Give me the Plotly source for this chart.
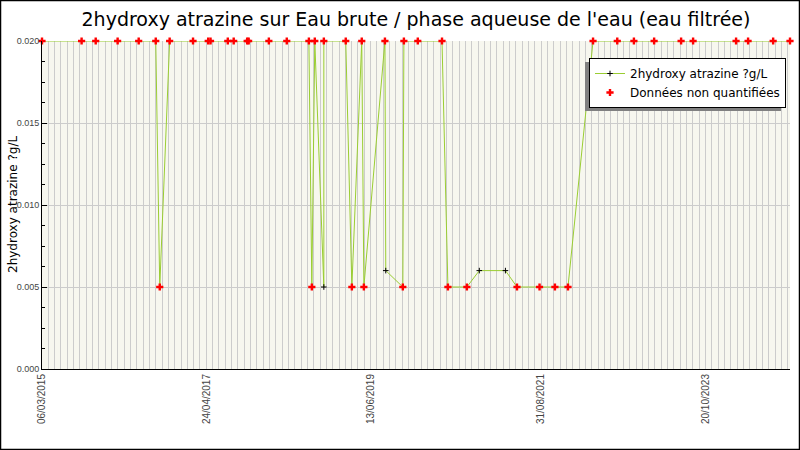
import plotly.graph_objects as go

# dates de prélèvement, valeurs (µg/L) et statut de quantification
dates = [
    "2015-03-06", "2015-09-10", "2015-11-16", "2016-02-28", "2016-06-07",
    "2016-08-27", "2016-09-15", "2016-11-01", "2017-02-20", "2017-05-03",
    "2017-05-14", "2017-08-04", "2017-09-01", "2017-11-04", "2017-11-11",
    "2018-02-15", "2018-05-11", "2018-08-24", "2018-09-07", "2018-09-21",
    "2018-11-03", "2018-11-03", "2019-02-15", "2019-03-16", "2019-05-02",
    "2019-05-12", "2019-08-20", "2019-08-24", "2019-11-13", "2019-11-18",
    "2020-01-23", "2020-05-17", "2020-06-14", "2020-09-12", "2020-11-10",
    "2021-03-14", "2021-05-08", "2021-08-23", "2021-11-04", "2022-01-05",
    "2022-05-04", "2022-08-27", "2022-11-14", "2023-02-18", "2023-06-26",
    "2023-08-22", "2024-03-13", "2024-05-09", "2024-09-05", "2024-11-24",
]
valeurs = [
    0.02, 0.02, 0.02, 0.02, 0.02,
    0.02, 0.005, 0.02, 0.02, 0.02,
    0.02, 0.02, 0.02, 0.02, 0.02,
    0.02, 0.02, 0.02, 0.005, 0.02,
    0.005, 0.02, 0.02, 0.005, 0.02,
    0.005, 0.02, 0.006, 0.005, 0.02,
    0.02, 0.02, 0.005, 0.005, 0.006,
    0.006, 0.005, 0.005, 0.005, 0.005,
    0.02, 0.02, 0.02, 0.02, 0.02,
    0.02, 0.02, 0.02, 0.02, 0.02,
]
quantifie = [
    False, False, False, False, False,
    False, False, False, False, False,
    False, False, False, False, False,
    False, False, False, False, False,
    True, False, False, False, False,
    False, False, True, False, False,
    False, False, False, False, True,
    True, False, False, False, False,
    False, False, False, False, False,
    False, False, False, False, False,
]

# étiquettes de l'axe des dates
tick_dates = ["2015-03-06", "2017-04-24", "2019-06-13", "2021-08-31", "2023-10-20"]
tick_labels = ["06/03/2015", "24/04/2017", "13/06/2019", "31/08/2021", "20/10/2023"]

nq_dates = [d for d, q in zip(dates, quantifie) if not q]
nq_vals = [v for v, q in zip(valeurs, quantifie) if not q]

DAY = 86400000
L, R, T, B = 42, 10, 41, 81
W, H = 800, 450
pw, ph = W - L - R, H - T - B

fig = go.Figure()
fig.add_trace(go.Scatter(
    x=dates, y=valeurs, mode="lines+markers",
    name="2hydroxy atrazine ?g/L",
    line=dict(color="#9acd32", width=1),
    marker=dict(symbol="cross-thin", size=4, color="black",
                line=dict(color="black", width=1)),
    cliponaxis=False,
))
fig.add_trace(go.Scatter(
    x=nq_dates, y=nq_vals, mode="markers",
    name="Données non quantifiées",
    marker=dict(symbol="cross", size=6, color="red"),
    cliponaxis=False,
))

# légende en haut à droite, avec une ombre grise décalée
leg_x0, leg_y0 = 589, 58

fig.update_layout(
    width=W, height=H,
    margin=dict(l=L, r=R, t=T, b=B),
    paper_bgcolor="white",
    plot_bgcolor="#f7f7ef",
    font=dict(family="DejaVu Sans", color="black"),
    title=dict(
        text="2hydroxy atrazine sur Eau brute / phase aqueuse de l'eau (eau filtrée)",
        x=0.5, xanchor="center", xref="paper",
        y=1 - 19 / H, yanchor="middle", yref="container",
        font=dict(size=19, family="DejaVu Sans", color="black"),
    ),
    showlegend=True,
    legend=dict(
        x=(leg_x0 - L) / pw, y=1 - (leg_y0 - T) / ph,
        xanchor="left", yanchor="top",
        bgcolor="white", bordercolor="black", borderwidth=1,
        font=dict(size=12, family="DejaVu Sans"),
        tracegroupgap=0, itemwidth=30,
    ),
    xaxis=dict(
        type="date",
        range=[dates[0], dates[-1]],
        tickmode="array", tickvals=tick_dates, ticktext=tick_labels,
        tickangle=-90,
        tickfont=dict(size=10, family="Liberation Sans", color="#444"),
        ticks="", showgrid=False,
        showline=True, linecolor="black", linewidth=1,
        zeroline=False,
        minor=dict(tick0=dates[0], dtick=30 * DAY, showgrid=True,
                   gridcolor="#cccccc", gridwidth=1, ticks=""),
    ),
    xaxis2=dict(
        type="date", overlaying="x", matches="x",
        tick0=dates[0], dtick=60 * DAY,
        ticks="inside", ticklen=5, tickcolor="black",
        showticklabels=False, showgrid=False, showline=False, zeroline=False,
    ),
    yaxis=dict(
        range=[0, 0.02], dtick=0.005, tickformat=".3f",
        tickfont=dict(size=9, family="Liberation Sans", color="#444"),
        ticks="inside", ticklen=5, tickcolor="black",
        showgrid=True, gridcolor="#cccccc", gridwidth=1,
        showline=True, linecolor="black", linewidth=1,
        zeroline=False,
        minor=dict(dtick=0.00125, ticks="inside", ticklen=3,
                   tickcolor="black", showgrid=False),
    ),
)

# ombre de la légende
fig.add_shape(
    type="rect", xref="paper", yref="paper", layer="above",
    x0=(leg_x0 - 4 - L) / pw, x1=(leg_x0 + 192 - L) / pw,
    y0=1 - (111 - T) / ph, y1=1 - (leg_y0 + 4 - T) / ph,
    fillcolor="#808080", line=dict(width=0),
)
# cadre autour de l'image
fig.add_shape(
    type="rect", xref="paper", yref="paper",
    x0=(0.5 - L) / pw, x1=(W - 0.5 - L) / pw,
    y0=1 - (H - 0.5 - T) / ph, y1=1 - (0.5 - T) / ph,
    line=dict(color="black", width=1.5),
)
# titre de l'axe vertical
fig.add_annotation(
    text="2hydroxy atrazine ?g/L", textangle=-90,
    xref="paper", yref="paper",
    x=(13 - L) / pw, y=1 - (205 - T) / ph,
    xanchor="center", yanchor="middle", showarrow=False,
    font=dict(size=12, family="DejaVu Sans", color="black"),
)

fig.write_html(
    "out.html",
    config={"displayModeBar": False},
    post_script="document.body.style.margin='0px';",
)
